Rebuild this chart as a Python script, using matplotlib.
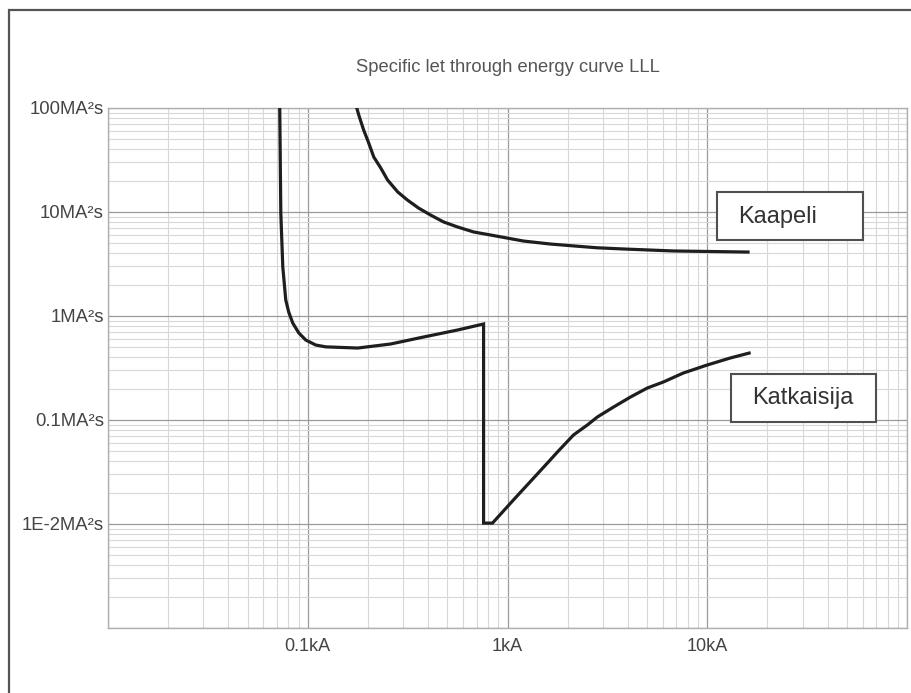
import numpy as np
import matplotlib
matplotlib.use("Agg")
import matplotlib.pyplot as plt
from matplotlib.ticker import LogLocator, NullFormatter
from matplotlib.patches import Rectangle

plt.rcParams['font.family'] = ['Liberation Sans', 'DejaVu Sans']

#------------data (kA, MA²s)-------------------------------------#
cable_I = [0.176, 0.18, 0.1905, 0.202, 0.214, 0.232, 0.251, 0.282, 0.316, 0.359, 0.412, 0.479,
           0.562, 0.676, 0.822, 1.20, 1.64, 2.14, 2.8, 3.80, 6.76, 16.0]
cable_E = [100, 85.8, 61.4, 46.0, 33.8, 26.5, 20.3, 15.6, 13.0, 10.9, 9.35, 8.02,
           7.18, 6.43, 6.01, 5.26, 4.92, 4.72, 4.53, 4.41, 4.22, 4.12]

breaker_I = [0.0724, 0.0733, 0.075, 0.0776, 0.0803, 0.0841, 0.0902, 0.0977, 0.1096, 0.123, 0.178,
             0.26, 0.38, 0.562, 0.759,
             0.759, 0.841, 1.07, 1.585, 1.778, 2.14, 2.51, 2.82, 3.39, 4.12, 5.01, 6.03, 7.59,
             10.0, 13.0, 16.2]
breaker_E = [100, 9.77, 2.96, 1.43, 1.09, 0.857, 0.687, 0.588, 0.526, 0.505, 0.492,
             0.538, 0.628, 0.733, 0.838,
             0.0102, 0.0102, 0.017, 0.0386, 0.0492, 0.0718, 0.0895, 0.107, 0.133, 0.166, 0.203,
             0.232, 0.283, 0.338, 0.394, 0.44]

x_ticks = [0.01, 0.1, 1, 10, 100]
x_labels = ['', '0.1kA', '1kA', '10kA', '']
y_ticks = [0.001, 0.01, 0.1, 1, 10, 100]
y_labels = ['', '1E-2MA²s', '0.1MA²s', '1MA²s', '10MA²s', '100MA²s']

title = 'Specific let through energy curve LLL'
label_cable = 'Kaapeli'
label_breaker = 'Katkaisija'

#------------figure----------------#
fig = plt.figure(figsize=(9.11, 6.93), dpi=100)
ax = fig.add_axes([108/911, 65/693, 799/911, 520/693])

ax.set_xscale('log')
ax.set_yscale('log')
ax.set_xlim(0.01, 100)
ax.set_ylim(0.001, 100)

ax.set_xticks(x_ticks)
ax.set_xticklabels(x_labels)
ax.set_yticks(y_ticks)
ax.set_yticklabels(y_labels)
ax.xaxis.set_minor_locator(LogLocator(base=10, subs=np.arange(2, 10)))
ax.yaxis.set_minor_locator(LogLocator(base=10, subs=np.arange(2, 10)))
ax.xaxis.set_minor_formatter(NullFormatter())
ax.yaxis.set_minor_formatter(NullFormatter())
ax.tick_params(which='both', length=0)
ax.tick_params(axis='x', pad=7, labelsize=13, labelcolor='#444444')
ax.tick_params(axis='y', pad=3, labelsize=13.3, labelcolor='#444444')

ax.grid(which='major', color='#9a9a9a', linewidth=0.9)
ax.grid(which='minor', color='#d8d8d8', linewidth=0.8)
ax.set_axisbelow(True)
for s in ax.spines.values():
    s.set_color('#b0b0b0')
    s.set_linewidth(1.0)

ax.plot(cable_I, cable_E, color='#1e1e1e', linewidth=2.3, solid_joinstyle='round', zorder=3)
ax.plot(breaker_I, breaker_E, color='#1e1e1e', linewidth=2.3, solid_joinstyle='miter', zorder=3)

# label boxes
ax.add_patch(Rectangle((0.762, 0.746), 0.183, 0.092, transform=ax.transAxes,
                       facecolor='white', edgecolor='#505050', linewidth=1.5, zorder=4))
ax.text(0.8385, 0.790, label_cable, transform=ax.transAxes, fontsize=17,
        color='#333333', ha='center', va='center', zorder=5)
ax.add_patch(Rectangle((0.780, 0.396), 0.181, 0.092, transform=ax.transAxes,
                       facecolor='white', edgecolor='#505050', linewidth=1.5, zorder=4))
ax.text(0.870, 0.442, label_breaker, transform=ax.transAxes, fontsize=17,
        color='#333333', ha='center', va='center', zorder=5)

fig.text(508/911, 1 - 68/693, title, fontsize=13.2, color='#555555', ha='center', va='center')

# outer frame
fig.add_artist(Rectangle((9/911, -0.1), 1.2, 1 - 10/693 + 0.1, transform=fig.transFigure,
                         facecolor='none', edgecolor='#555555', linewidth=1.6))

fig.savefig('out.png', dpi=100)
